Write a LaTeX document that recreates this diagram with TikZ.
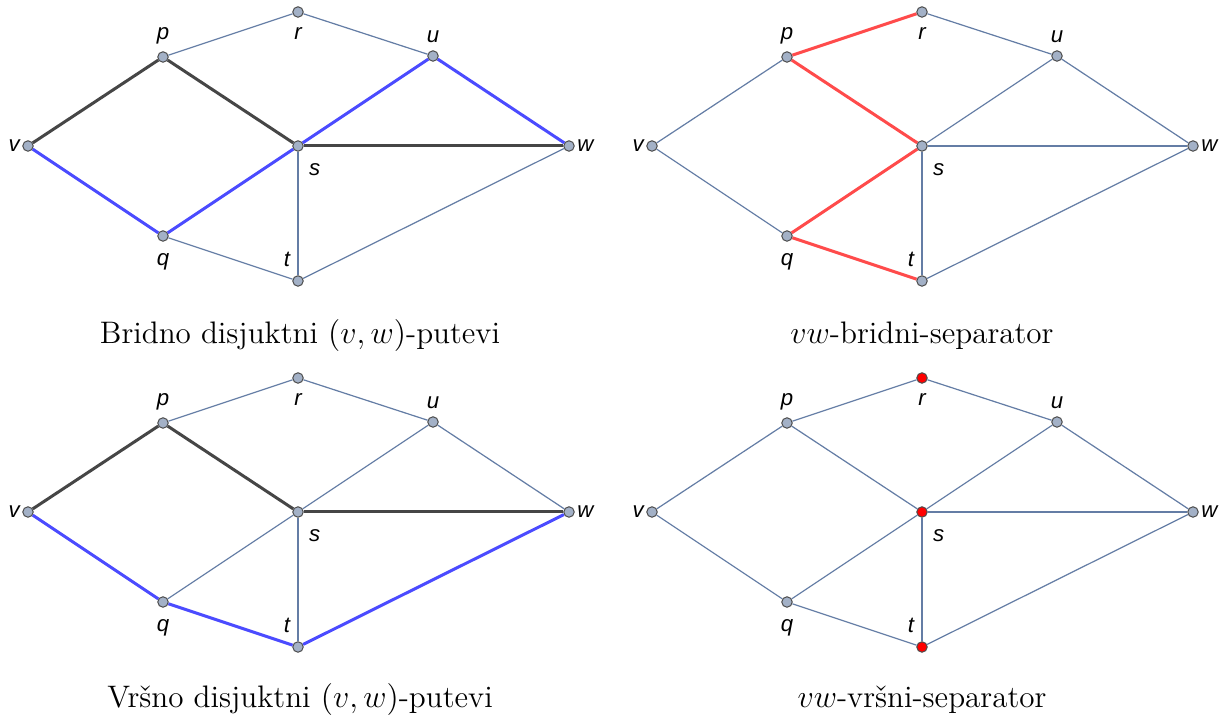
\documentclass[tikz,border=0pt]{standalone}
\usepackage{fontspec}
\usepackage{tikz}
\usetikzlibrary{positioning}
\newfontfamily\lblfont{Liberation Sans}
\definecolor{edgec}{RGB}{100,125,165}
\definecolor{vfill}{RGB}{163,177,199}
\definecolor{pathblue}{RGB}{75,75,255}
\definecolor{pathdark}{RGB}{70,70,70}
\definecolor{cutred}{RGB}{255,75,75}

\begin{document}
\begin{tikzpicture}[
    x=0.45pt,y=-0.45pt,
    vtx/.style={circle,draw=black!70,line width=.45pt,fill=vfill,minimum size=4.7pt,inner sep=0pt},
    lbl/.style={font=\lblfont\itshape\fontsize{10}{11}\selectfont,inner sep=1pt},
    e/.style={edgec,line width=.55pt},
    pdark/.style={pathdark,line width=1.35pt},
    pblue/.style={pathblue,line width=1.35pt},
    cut/.style={cutred,line width=1.35pt},
    captxt/.style={font=\fontsize{14}{17}\selectfont}
  ]
    \useasboundingbox (0,0) rectangle (1224,722);
    % four copies of the same graph
    \foreach \px/\py/\k/\sep in {0/0/a/vfill,624/0/b/vfill,0/366/c/vfill,624/366/d/red}{
      \begin{scope}[shift={(\px,\py)},name prefix=\k-]
        \node[vtx,label={[lbl,label distance=0pt]left:v}] (v) at (28,146) {};
        \node[vtx,label={[lbl,label distance=2pt]above:p}] (p) at (163,57) {};
        \node[vtx,fill=\sep,label={[lbl,label distance=3pt]below:r}] (r) at (298,12) {};
        \node[vtx,label={[lbl,label distance=2pt]above:u}] (u) at (433,56) {};
        \node[vtx,fill=\sep,label={[lbl,label distance=5pt]-60:s}] (s) at (298,146) {};
        \node[vtx,label={[lbl,label distance=0pt]right:w}] (w) at (569,146) {};
        \node[vtx,label={[lbl,label distance=4pt]below:q}] (q) at (163,236) {};
        \node[vtx,fill=\sep,label={[lbl,label distance=3pt]115:t}] (t) at (298,281) {};
        \foreach \s/\t in {v/p,v/q,p/r,p/s,r/u,u/s,u/w,s/w,s/t,q/s,q/t,t/w} {\draw[e] (\s)--(\t);}
      \end{scope}
    }
    % edge-disjoint paths
    \foreach \s/\t in {v/p,p/s,s/w} {\draw[pdark] (a-\s)--(a-\t);}
    \foreach \s/\t in {v/q,q/s,s/u,u/w} {\draw[pblue] (a-\s)--(a-\t);}
    % edge separator
    \foreach \s/\t in {p/r,p/s,q/s,q/t} {\draw[cut] (b-\s)--(b-\t);}
    % vertex-disjoint paths
    \foreach \s/\t in {v/p,p/s,s/w} {\draw[pdark] (c-\s)--(c-\t);}
    \foreach \s/\t in {v/q,q/t,t/w} {\draw[pblue] (c-\s)--(c-\t);}
    % captions
    \node[captxt] (capa) at (300,336) {Bridno disjuktni $(v,w)$-putevi};
    \node[captxt] (capb) at (922,336) {$vw$-bridni-separator};
    \node[captxt] (capc) at (300,700) {Vršno disjuktni $(v,w)$-putevi};
    \node[captxt] (capd) at (922,700) {$vw$-vršni-separator};
  \end{tikzpicture}
\end{document}
